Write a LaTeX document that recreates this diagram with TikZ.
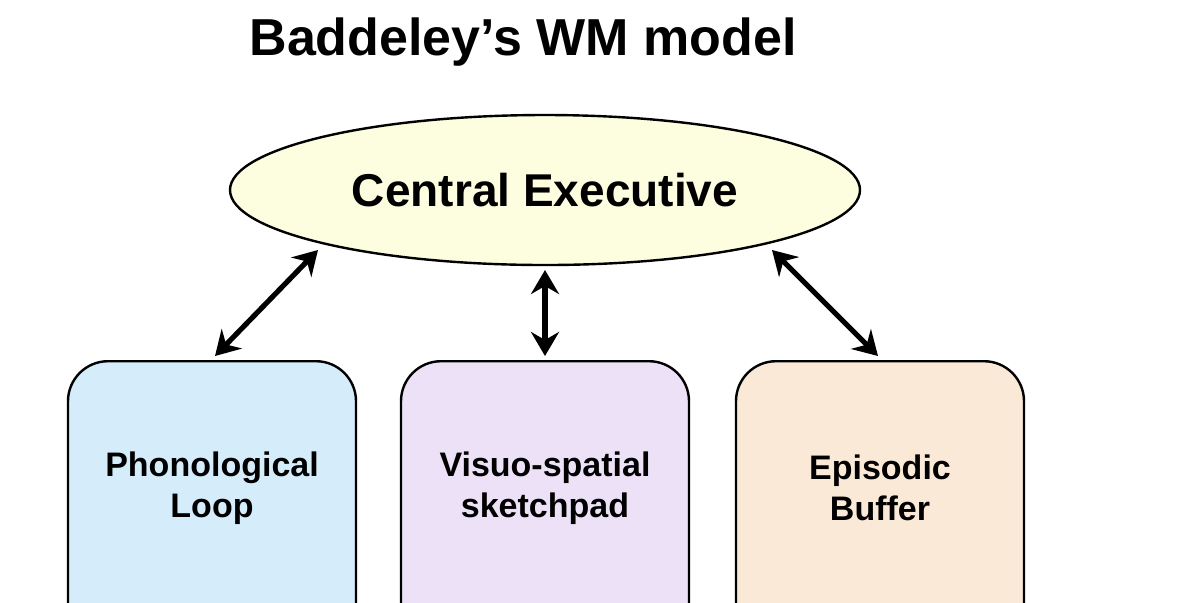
\documentclass[tikz,border=0pt]{standalone}
\usepackage{fontspec}
\setmainfont{Liberation Sans}
\usetikzlibrary{shapes.geometric,arrows.meta}
\definecolor{ceF}{HTML}{FDFDE0}
\definecolor{plF}{HTML}{D5ECFA}
\definecolor{vsF}{HTML}{ECE1F7}
\definecolor{ebF}{HTML}{FAE9D7}
\begin{document}
\begin{tikzpicture}[x=0.5pt,y=-0.5pt,
  box/.style={draw=black,line width=1.2pt,rounded corners=20pt,minimum width=144pt,minimum height=150pt,anchor=north},
  lbl/.style={font=\bfseries\fontsize{17}{20.5}\selectfont,align=center},
  arr/.style={line width=2.6pt,{Stealth[length=12pt,width=14pt,inset=4pt]}-{Stealth[length=12pt,width=14pt,inset=4pt]}}]
\useasboundingbox (0,0) rectangle (1200,602);
\clip (0,0) rectangle (1200,602);
\node[font=\bfseries\fontsize{26}{30}\selectfont] (t) at (523,42) {Baddeley’s WM model};
\node[ellipse,draw=black,line width=1.2pt,fill=ceF,minimum width=315pt,minimum height=75pt,inner sep=0pt,font=\bfseries\fontsize{23}{26}\selectfont] (ce) at (545,190) {Central Executive};
\node[box,fill=plF] (pl) at (212,360) {};
\node[box,fill=vsF] (vs) at (545,360) {};
\node[box,fill=ebF] (eb) at (880,360) {};
\node[lbl] (plt) at (212,488) {Phonological\\Loop};
\node[lbl] (vst) at (545,488) {Visuo-spatial\\sketchpad};
\node[lbl] (ebt) at (880,488) {Episodic\\Buffer};
\coordinate (c1) at (318,250);
\coordinate (c2) at (545,270);
\coordinate (c3) at (772,250);
\coordinate (b1) at (215,356);
\coordinate (b2) at (545,356);
\coordinate (b3) at (878,356);
\draw[arr] (c1) -- (b1);
\draw[arr] (c2) -- (b2);
\draw[arr] (c3) -- (b3);
\end{tikzpicture}
\end{document}
